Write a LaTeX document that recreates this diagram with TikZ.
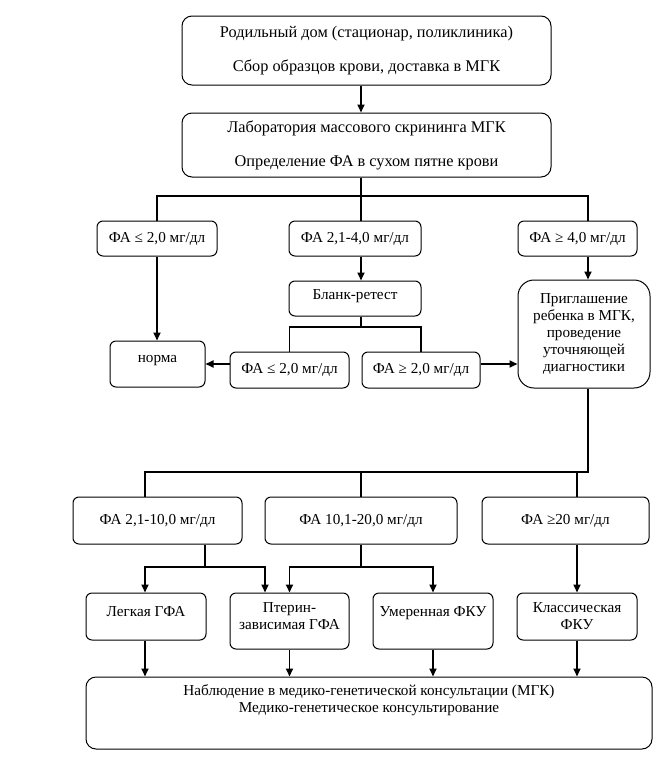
\documentclass[tikz,border=0pt]{standalone}
\usepackage{fontspec}
\setmainfont{Liberation Serif}
\usetikzlibrary{arrows.meta}
\begin{document}
\begin{tikzpicture}[x=1pt,y=-1pt,
  box/.style={draw, line width=1pt, rounded corners=6pt, inner sep=0pt, align=center,
    font=\fontsize{15.2}{17}\selectfont},
  bigtext/.style={font=\fontsize{16.3}{17}\selectfont},
  conn/.style={line width=1.8pt},
  arr/.style={conn, -{Triangle[length=8pt,width=7pt]}},
]
\useasboundingbox (0,0) rectangle (669,777);
% helper coordinates (x columns, y levels)
\coordinate (tx) at (361,0);
\coordinate (rx) at (588,0);
\coordinate (lx) at (145,0);
\coordinate (px) at (205,0);
\coordinate (sx) at (265,0);
\coordinate (qx) at (577,0);
\coordinate (h1) at (0,196);
\coordinate (h2) at (0,327);
\coordinate (h3) at (0,472);
\coordinate (h4) at (0,567);

\node[box, bigtext, rounded corners=10pt, minimum width=369pt, minimum height=69pt] (b1) at (366.5,50.5)
  {Родильный дом (стационар, поликлиника)\\[17pt]Сбор образцов крови, доставка в МГК};
\node[box, bigtext, rounded corners=10pt, minimum width=369pt, minimum height=64pt] (b2) at (366.5,145)
  {Лаборатория массового скрининга МГК\\[17pt]Определение ФА в сухом пятне крови};

\node[box, minimum width=120pt, minimum height=35pt] (aL) at (157,238.5) {ФА ≤ 2,0 мг/дл};
\node[box, minimum width=132pt, minimum height=35pt] (aM) at (355,238.5) {ФА 2,1-4,0 мг/дл};
\node[box, minimum width=119pt, minimum height=35pt] (aR) at (577.5,238.5) {ФА ≥ 4,0 мг/дл};

\node[box, minimum width=132pt, minimum height=35pt, text height=10pt, text depth=8pt] (blank) at (355,298.5) {Бланк-ретест};
\node[box, minimum width=95pt, minimum height=46pt, text height=10pt, text depth=14pt] (norma) at (157.5,364) {норма};
\node[box, minimum width=119pt, minimum height=36pt] (c1) at (289.5,370) {ФА ≤ 2,0 мг/дл};
\node[box, minimum width=118pt, minimum height=36pt] (c2) at (421,370) {ФА ≥ 2,0 мг/дл};
\node[box, rounded corners=16pt, minimum width=132pt, minimum height=108pt] (inv) at (584,334)
  {Приглашение\\ребенка в МГК,\\проведение\\уточняющей\\диагностики};

\node[box, minimum width=169pt, minimum height=47pt] (d1) at (157.5,520.5) {ФА 2,1-10,0 мг/дл};
\node[box, minimum width=192pt, minimum height=47pt] (d2) at (361,520.5) {ФА 10,1-20,0 мг/дл};
\node[box, minimum width=167pt, minimum height=47pt] (d3) at (565.5,520.5) {ФА ≥20 мг/дл};

\node[box, minimum width=120pt, minimum height=47pt, text height=10pt, text depth=10pt] (e1) at (146,616.5) {Легкая ГФА};
\node[box, minimum width=119pt, minimum height=56pt, text depth=10pt] (e2) at (289.5,621) {Птерин-\\зависимая ГФА};
\node[box, minimum width=120pt, minimum height=56pt, text height=10pt, text depth=19pt] (e3) at (433,621) {Умеренная ФКУ};
\node[box, minimum width=120pt, minimum height=47pt] (e4) at (577,616.5) {Классическая\\ФКУ};

\node[box, rounded corners=10pt, minimum width=566pt, minimum height=72pt, text depth=29pt] (F) at (369,713)
  {Наблюдение в медико-генетической консультации (МГК)\\Медико-генетическое консультирование};

% connectors
\draw[arr] (b1.south -| tx) -- (b2.north -| tx);
\draw[conn] (b2.south -| tx) -- (tx |- h1);
\draw[conn] (aL.north) |- (h1 -| rx) -- (aR.north -| rx);
\draw[conn] (tx |- h1) -- (aM.north -| tx);
\draw[arr] (aL.south) -- (aL.south |- norma.north);
\draw[arr] (aM.south -| tx) -- (blank.north -| tx);
\draw[conn] (blank.south -| tx) -- (tx |- h2);
\draw[conn] (c1.north) |- (c2.north |- h2) -- (c2.north);
\draw[arr] (c1.west |- norma.east) -- (norma.east);
\draw[arr] (c2.east |- norma.east) -- (inv.west |- norma.east);
\draw[arr] (aR.south -| rx) -- (inv.north -| rx);
\draw[conn] (inv.south -| rx) |- (lx |- h3) -- (d1.north -| lx);
\draw[conn] (tx |- h3) -- (d2.north -| tx);
\draw[conn] (qx |- h3) -- (d3.north -| qx);
\draw[arr] (d1.south -| px) -- (px |- h4) -| (e1.north -| lx);
\draw[arr] (px |- h4) -| (e2.north -| sx);
\draw[arr] (d2.south -| tx) -- (tx |- h4) -| (e2.north);
\draw[arr] (tx |- h4) -| (e3.north);
\draw[arr] (d3.south -| qx) -- (e4.north -| qx);
\draw[arr] (e1.south -| lx) -- (F.north -| lx);
\draw[arr] (e2.south) -- (F.north -| e2.south);
\draw[arr] (e3.south) -- (F.north -| e3.south);
\draw[arr] (e4.south) -- (F.north -| e4.south);
\end{tikzpicture}
\end{document}
